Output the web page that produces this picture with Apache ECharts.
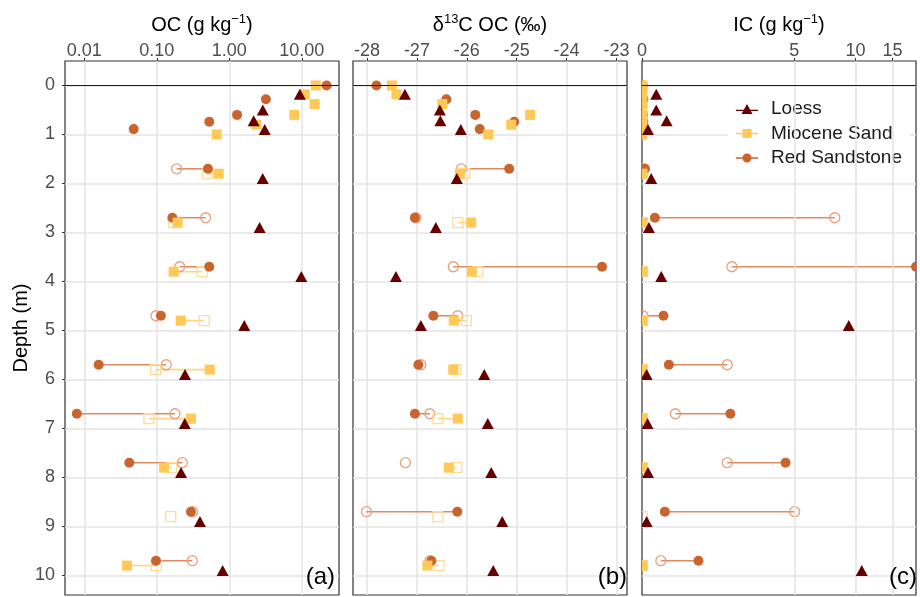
<!DOCTYPE html>
<html>
<head>
<meta charset="utf-8">
<script src="https://cdn.jsdelivr.net/npm/echarts@6/dist/echarts.min.js"></script>
<style>html,body{margin:0;padding:0;background:#fff}#c{width:920px;height:597px}</style>
</head>
<body>
<div id="c"></div>
<script>
// ---------------- data ----------------
// Red Sandstone (circles): filled = solid, hollow = open markers
const rsDepth        = [0, 0.28, 0.6, 0.74, 0.89, 1.7, 2.7, 3.7, 4.7, 5.7, 6.7, 7.7, 8.7, 9.7];
const rsOC           = [22, 3.2, 1.28, 0.53, 0.048, 0.508, 0.164, 0.53, 0.114, 0.0158, 0.0079, 0.0418, 0.296, 0.0975];
const rsOCHollow     = [null, null, null, null, null, 0.188, 0.472, 0.207, 0.0975, 0.135, 0.178, 0.225, 0.313, 0.309];
const rsD13C         = [-27.81, -26.41, -25.83, -25.05, -25.74, -25.15, -27.04, -23.29, -26.67, -26.97, -27.04, null, -26.19, -26.71];
const rsD13CHollow   = [null, null, null, null, null, -26.11, -27.02, -26.27, -26.18, -26.92, -26.74, -27.23, -28.01, -26.74];
const rsIC           = [0.02, 0.03, 0.02, 0.03, 0.02, 0.06, 0.28, 19.37, 0.47, 0.59, 2.22, 4.52, 0.5, 1.3];
const rsICHollow     = [null, null, null, null, null, 0.05, 7.94, 2.27, 0.02, 2.12, 0.74, 2.12, 5.03, 0.41];

// Miocene Sand (squares)
const msDepth        = [0, 0.18, 0.38, 0.6, 0.8, 1.0, 1.8, 2.8, 3.8, 4.8, 5.8, 6.8, 7.8, 8.8, 9.8];
const msOC           = [15.6, 11, 15, 7.9, 2.36, 0.67, 0.714, 0.194, 0.171, 0.214, 0.537, 0.296, 0.126, null, 0.0388];
const msOCHollow     = [null, null, null, null, null, null, 0.50, 0.17, 0.424, 0.452, 0.0966, 0.078, 0.16, 0.156, 0.0984];
const msD13C         = [-27.50, -27.41, -26.49, -24.73, -25.11, -25.57, -26.14, -25.91, -25.90, -26.26, -26.27, -26.18, -26.36, null, -26.79];
const msD13CHollow   = [null, null, null, null, null, null, -26.04, -26.18, -25.78, -26.01, -26.22, -26.58, -26.20, -26.58, -26.56];
const msIC           = [0.01, 0.01, 0.01, 0.01, 0.01, 0.01, 0.01, 0.01, 0.01, 0.01, 0.01, 0.01, 0.01, null, 0.01];
const msICHollow     = [null, null, null, null, null, null, 0.01, 0.01, 0.01, 0.01, 0.01, 0.01, 0.01, 0.01, 0.01];

// Loess (triangles)
const loDepth        = [0.18, 0.5, 0.72, 0.9, 1.9, 2.9, 3.9, 4.9, 5.9, 6.9, 7.9, 8.9, 9.9];
const loOC           = [9.4, 2.9, 2.17, 3.08, 2.89, 2.62, 9.84, 1.61, 0.245, 0.243, 0.216, 0.394, 0.81];
const loD13C         = [-27.24, -26.54, -26.53, -26.12, -26.20, -26.62, -27.42, -26.92, -25.65, -25.58, -25.51, -25.29, -25.47];
const loIC           = [0.31, 0.31, 0.54, 0.13, 0.2, 0.15, 0.42, 9.27, 0.1, 0.12, 0.13, 0.1, 10.7];

// tick labels
const depthTicks = [0, 1, 2, 3, 4, 5, 6, 7, 8, 9, 10];
const ocTicks = [0.01, 0.1, 1, 10];
const d13cTicks = [-28, -27, -26, -25, -24, -23];
const icTicks = [0, 5, 10, 15];
const icMax = 19.37;
const panelLabels = ['(a)', '(b)', '(c)'];
const seriesNames = ['Loess', 'Miocene Sand', 'Red Sandstone'];

// ---------------- styling ----------------
const FONT = "'Liberation Sans', Arial, Helvetica, sans-serif";
const C_LO = '#650000', C_MS = '#ffc857', C_RS = '#c9642f';
const C_RS_H = '#e8a080', C_MS_H = '#ffdb96';
const C_RS_L = '#df8a62', C_MS_L = '#ffd67f';
const GRIDC = '#e3e3e3';

// pseudo-log (asinh) transform used by the IC panel
const tIC = v => Math.asinh(v / 2);
const ident = v => v;

function pts(depth, vals, tf) {
  const out = [];
  depth.forEach((d, i) => { if (vals[i] != null) out.push([tf(vals[i]), d]); });
  return out;
}
function segs(depth, a, b, tf) {
  const out = [];
  depth.forEach((d, i) => { if (a[i] != null && b[i] != null) out.push([tf(a[i]), tf(b[i]), d]); });
  return out;
}
function segSeries(idx, data, color) {
  return {
    type: 'custom', xAxisIndex: idx, yAxisIndex: idx, z: 2, silent: true, clip: true,
    encode: { x: [0, 1], y: 2 },
    data: data,
    renderItem: function (params, api) {
      const y = api.value(2);
      const p1 = api.coord([api.value(0), y]);
      const p2 = api.coord([api.value(1), y]);
      return { type: 'line', shape: { x1: p1[0], y1: p1[1], x2: p2[0], y2: p2[1] },
               style: { stroke: color, lineWidth: 1.6 } };
    }
  };
}
function scat(idx, name, data, symbol, size, style, z) {
  return { type: 'scatter', name: name, xAxisIndex: idx, yAxisIndex: idx, data: data,
           symbol: symbol, symbolSize: size, itemStyle: Object.assign({ opacity: 1 }, style), z: z, silent: true };
}
// marker series clipped to the panel (used for the IC panel, where points sit on the edges)
function clipMarks(idx, name, data, symbol, size, style, z) {
  const w = Array.isArray(size) ? size[0] : size, h = Array.isArray(size) ? size[1] : size;
  const st = { fill: style.color, stroke: style.borderColor || null, lineWidth: style.borderWidth || 0 };
  return {
    type: 'custom', name: name, xAxisIndex: idx, yAxisIndex: idx, z: z, silent: true, clip: true,
    encode: { x: 0, y: 1 }, data: data, itemStyle: { color: style.color },
    renderItem: function (params, api) {
      const p = api.coord([api.value(0), api.value(1)]);
      if (symbol === 'circle') return { type: 'circle', shape: { cx: p[0], cy: p[1], r: w / 2 }, style: st };
      if (symbol === 'rect') return { type: 'rect', shape: { x: p[0] - w / 2, y: p[1] - h / 2, width: w, height: h }, style: st };
      return { type: 'polygon', shape: { points: [[p[0], p[1] - h / 2], [p[0] + w / 2, p[1] + h / 2], [p[0] - w / 2, p[1] + h / 2]] }, style: st };
    }
  };
}

const panels = [
  { tf: ident, rs: rsOC, rsH: rsOCHollow, ms: msOC, msH: msOCHollow, lo: loOC },
  { tf: ident, rs: rsD13C, rsH: rsD13CHollow, ms: msD13C, msH: msD13CHollow, lo: loD13C },
  { tf: tIC, rs: rsIC, rsH: rsICHollow, ms: msIC, msH: msICHollow, lo: loIC }
];

const grids = [
  { left: 65, top: 61, width: 274, height: 534 },
  { left: 353, top: 61, width: 274, height: 534 },
  { left: 642, top: 61, width: 274, height: 534 }
].map(g => Object.assign(g, { show: true, borderColor: '#333', borderWidth: 1.2, backgroundColor: '#fff' }));

const yAxes = [0, 1, 2].map(i => ({
  type: 'value', gridIndex: i, inverse: true, min: -0.5, max: 10.4, minInterval: 1, maxInterval: 1,
  axisLine: { show: false, onZero: false },
  axisTick: { show: i === 0, length: 3, lineStyle: { color: '#333' }, customValues: depthTicks },
  axisLabel: { show: i === 0, margin: 10, fontSize: 18, color: '#4d4d4d', fontFamily: FONT,
               customValues: depthTicks, formatter: v => String(Math.round(v)) },
  splitLine: { show: true, lineStyle: { color: GRIDC, width: 1.5 } },
  name: i === 0 ? 'Depth (m)' : '', nameLocation: 'middle', nameGap: 34,
  nameTextStyle: { fontSize: 20, color: '#000', fontFamily: FONT }
}));

const nameStyle = { fontSize: 20, color: '#000', fontFamily: FONT, lineHeight: 24,
  rich: { sup: { fontSize: 13, verticalAlign: 'top', lineHeight: 14, fontFamily: FONT, color: '#000' } } };
const labStyle = { fontSize: 18, color: '#4d4d4d', fontFamily: FONT, margin: 1 };

const icCustom = icTicks.map(tIC);
const xAxes = [
  { type: 'log', logBase: 10, gridIndex: 0, position: 'top', min: 0.00542, max: 32.6,
    axisLine: { show: false, onZero: false },
    axisTick: { length: 3, lineStyle: { color: '#333' }, customValues: ocTicks },
    axisLabel: Object.assign({}, labStyle, { customValues: ocTicks, formatter: v => v.toFixed(2) }),
    splitLine: { show: true, lineStyle: { color: GRIDC, width: 1.5 } },
    name: 'OC (g kg{sup|\u22121})', nameLocation: 'middle', nameGap: 18, nameTextStyle: nameStyle },
  { type: 'value', gridIndex: 1, position: 'top', min: -28.28, max: -22.79, minInterval: 1, maxInterval: 1,
    axisLine: { show: false, onZero: false },
    axisTick: { length: 3, lineStyle: { color: '#333' }, customValues: d13cTicks },
    axisLabel: Object.assign({}, labStyle, { customValues: d13cTicks, formatter: v => String(Math.round(v)) }),
    splitLine: { show: true, lineStyle: { color: GRIDC, width: 1.5 } },
    name: '\u03b4{sup|13}C OC (\u2030)', nameLocation: 'middle', nameGap: 18, nameTextStyle: nameStyle },
  { type: 'value', gridIndex: 2, position: 'top', min: 0, max: tIC(icMax),
    axisLine: { show: false, onZero: false },
    axisTick: { length: 3, lineStyle: { color: '#333' }, customValues: icCustom },
    axisLabel: Object.assign({}, labStyle, { customValues: icCustom,
      formatter: v => String(Math.round(2 * Math.sinh(v))) }),
    splitLine: { show: false },
    name: 'IC (g kg{sup|\u22121})', nameLocation: 'middle', nameGap: 18, nameTextStyle: nameStyle }
];

const series = [];
panels.forEach((p, i) => {
  const mk = i === 2 ? clipMarks : scat;
  const ml = [{ yAxis: 0, lineStyle: { color: '#1a1a1a', width: 1.2, type: 'solid' } }];
  if (i === 2) icTicks.slice(1).forEach(t => ml.unshift({ xAxis: tIC(t), lineStyle: { color: GRIDC, width: 1.5, type: 'solid' } }));
  series.push({ type: 'scatter', xAxisIndex: i, yAxisIndex: i, data: [], z: 1, silent: true,
    markLine: { silent: true, symbol: ['none', 'none'], label: { show: false }, animation: false, data: ml } });
  series.push(segSeries(i, segs(rsDepth, p.rs, p.rsH, p.tf), C_RS_L));
  series.push(segSeries(i, segs(msDepth, p.ms, p.msH, p.tf), C_MS_L));
  series.push(mk(i, 'rsH' + i, pts(rsDepth, p.rsH, p.tf), 'circle', 10,
    { color: 'rgba(255,255,255,0)', borderColor: C_RS_H, borderWidth: 1.3 }, 3));
  series.push(mk(i, 'msH' + i, pts(msDepth, p.msH, p.tf), 'rect', 10,
    { color: 'rgba(255,255,255,0)', borderColor: C_MS_H, borderWidth: 1.3 }, 3));
  series.push(mk(i, seriesNames[2], pts(rsDepth, p.rs, p.tf), 'circle', 10, { color: C_RS }, 4));
  series.push(mk(i, seriesNames[1], pts(msDepth, p.ms, p.tf), 'rect', 10, { color: C_MS }, 4));
  series.push(mk(i, seriesNames[0], pts(loDepth, p.lo, p.tf), 'triangle', [12, 11], { color: C_LO }, 5));
});

const titles = [
  { text: panelLabels[0], right: 920 - 335, top: 565 },
  { text: panelLabels[1], right: 920 - 627, top: 565 },
  { text: panelLabels[2], right: 920 - 917, top: 565 }
].map(t => Object.assign(t, { padding: 0, textStyle: { fontSize: 24, fontWeight: 'normal', color: '#000', fontFamily: FONT } }));

const option = {
  animation: false,
  backgroundColor: '#fff',
  title: titles,
  grid: grids,
  xAxis: xAxes,
  yAxis: yAxes,
  legend: {
    orient: 'vertical', left: 728, top: 93, padding: [6, 8, 6, 8], backgroundColor: '#fff',
    itemWidth: 22, itemHeight: 14, itemGap: 4.5, selectedMode: false,
    textStyle: { fontSize: 19, color: '#1a1a1a', fontFamily: FONT, lineHeight: 20, padding: [0, 0, 0, 8] },
    data: [
      { name: 'Loess', icon: 'path://M0,7.3h24v1.4h-24z M12,1 L18,12 L6,12 Z' },
      { name: 'Miocene Sand', icon: 'path://M0,6.3h24v1.4h-24z M7,2h10v10h-10z' },
      { name: 'Red Sandstone', icon: 'path://M0,6.3h24v1.4h-24z M17,7 A5,5 0 1,1 7,7 A5,5 0 1,1 17,7 Z' }
    ]
  },
  series: series
};

const chart = echarts.init(document.getElementById('c'), null, { renderer: 'canvas' });
chart.setOption(option);
</script>
</body>
</html>
